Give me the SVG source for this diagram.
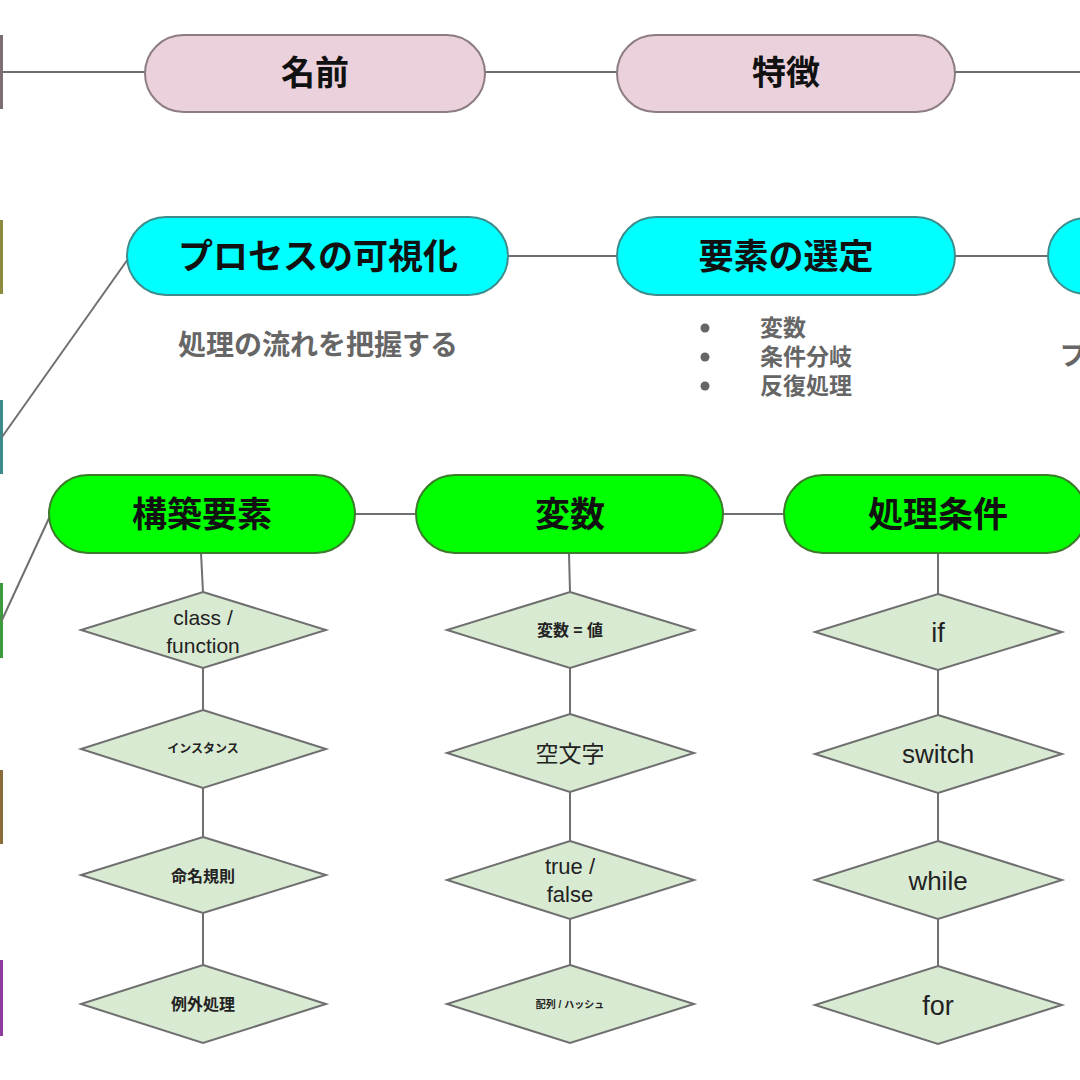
<svg xmlns="http://www.w3.org/2000/svg" width="1080" height="1080" viewBox="0 0 1080 1080">
<style>
.pink{fill:#ead1dc;stroke:#8e7c83;stroke-width:2}
.cyan{fill:#00ffff;stroke:#3f8c8c;stroke-width:2}
.green{fill:#00ff00;stroke:#3c7a2c;stroke-width:2}
.dia{fill:#d9ead3;stroke:#6f6f6f;stroke-width:2}
.ln{stroke:#6f6f6f;stroke-width:2;fill:none}
.tb{font-family:"Liberation Sans","Noto Sans CJK JP",sans-serif;font-weight:bold;text-anchor:middle;dominant-baseline:central;fill:#111}
.sub{font-family:"Liberation Sans","Noto Sans CJK JP",sans-serif;font-weight:bold;fill:#666;dominant-baseline:central}
.dt{font-family:"Liberation Sans","Noto Sans CJK JP",sans-serif;text-anchor:middle;dominant-baseline:central;fill:#222}
</style>
<rect width="1080" height="1080" fill="#ffffff"/>
<g id="bars">
<rect x="0" y="35" width="3" height="74" fill="#7d6e76"/>
<rect x="0" y="220" width="3" height="74" fill="#8c8a3e"/>
<rect x="0" y="400" width="3" height="74" fill="#3d8a8a"/>
<rect x="0" y="583" width="3" height="75" fill="#3c9a3c"/>
<rect x="0" y="770" width="3" height="74" fill="#8a6b3a"/>
<rect x="0" y="960" width="3" height="76" fill="#8e3a9e"/>
</g>
<g id="connectors">
<line class="ln" x1="2" y1="72" x2="145" y2="72"/>
<line class="ln" x1="485" y1="72" x2="617" y2="72"/>
<line class="ln" x1="955" y1="72" x2="1080" y2="72"/>
<line class="ln" x1="2" y1="437" x2="128" y2="259"/>
<line class="ln" x1="508" y1="256" x2="617" y2="256"/>
<line class="ln" x1="955" y1="256" x2="1048" y2="256"/>
<line class="ln" x1="2" y1="620" x2="50" y2="516"/>
<line class="ln" x1="355" y1="514" x2="416" y2="514"/>
<line class="ln" x1="723" y1="514" x2="784" y2="514"/>
<line class="ln" x1="201" y1="553" x2="203" y2="592"/>
<line class="ln" x1="203" y1="668" x2="203" y2="710"/>
<line class="ln" x1="203" y1="788" x2="203" y2="837"/>
<line class="ln" x1="203" y1="913" x2="203" y2="965"/>
<line class="ln" x1="569" y1="553" x2="570" y2="592"/>
<line class="ln" x1="570" y1="668" x2="570" y2="714"/>
<line class="ln" x1="570" y1="792" x2="570" y2="841"/>
<line class="ln" x1="570" y1="919" x2="570" y2="965"/>
<line class="ln" x1="938" y1="553" x2="938" y2="594"/>
<line class="ln" x1="938" y1="670" x2="938" y2="715"/>
<line class="ln" x1="938" y1="793" x2="938" y2="841"/>
<line class="ln" x1="938" y1="919" x2="938" y2="966"/>
</g>
<g id="n-namae"><rect class="pink" x="145" y="35" width="340" height="77" rx="38.5"/><text class="tb" x="315" y="73" font-size="34">名前</text></g>
<g id="n-tokuchou"><rect class="pink" x="617" y="35" width="338" height="77" rx="38.5"/><text class="tb" x="786" y="73" font-size="34">特徴</text></g>
<g id="n-process"><rect class="cyan" x="127" y="217" width="381" height="78" rx="39"/><text class="tb" x="318" y="256" font-size="35">プロセスの可視化</text></g>
<g id="n-youso"><rect class="cyan" x="617" y="217" width="338" height="78" rx="39"/><text class="tb" x="786" y="256" font-size="35">要素の選定</text></g>
<g id="n-cyan3"><rect class="cyan" x="1048" y="218" width="340" height="76" rx="38"/></g>
<g id="t-process"><text class="sub" x="318" y="345" font-size="28" text-anchor="middle">処理の流れを把握する</text></g>
<g id="t-youso">
<circle cx="705" cy="328" r="4.5" fill="#666"/><circle cx="705" cy="357" r="4.5" fill="#666"/><circle cx="705" cy="386" r="4.5" fill="#666"/>
<text class="sub" x="760" y="328" font-size="23">変数</text>
<text class="sub" x="760" y="357" font-size="23">条件分岐</text>
<text class="sub" x="760" y="386" font-size="23">反復処理</text>
</g>
<g id="t-cyan3"><text class="sub" x="1060" y="356" font-size="27">プ</text></g>
<g id="n-kouchiku"><rect class="green" x="49" y="475" width="306" height="78" rx="39"/><text class="tb" x="202" y="514" font-size="35">構築要素</text></g>
<g id="n-hensu"><rect class="green" x="416" y="475" width="307" height="78" rx="39"/><text class="tb" x="570" y="514" font-size="35">変数</text></g>
<g id="n-shori"><rect class="green" x="784" y="475" width="302" height="78" rx="39"/><text class="tb" x="938" y="514" font-size="35">処理条件</text></g>
<g id="d1"><polygon class="dia" points="203,592 326,630 203,668 81,630"/><text class="dt" x="203" y="617" font-size="21">class /</text><text class="dt" x="203" y="645" font-size="21">function</text></g>
<g id="d2"><polygon class="dia" points="203,710 326,749 203,788 81,749"/><text class="dt" x="203" y="749" font-size="12" font-weight="bold">インスタンス</text></g>
<g id="d3"><polygon class="dia" points="203,837 326,875 203,913 81,875"/><text class="dt" x="203" y="876" font-size="16" font-weight="bold">命名規則</text></g>
<g id="d4"><polygon class="dia" points="203,965 326,1004 203,1043 81,1004"/><text class="dt" x="203" y="1004" font-size="16" font-weight="bold">例外処理</text></g>
<g id="d5"><polygon class="dia" points="570,592 694,630 570,668 447,630"/><text class="dt" x="570" y="630" font-size="16" font-weight="bold">変数 = 値</text></g>
<g id="d6"><polygon class="dia" points="570,714 694,753 570,792 447,753"/><text class="dt" x="570" y="754" font-size="23">空文字</text></g>
<g id="d7"><polygon class="dia" points="570,841 694,880 570,919 447,880"/><text class="dt" x="570" y="866" font-size="22">true /</text><text class="dt" x="570" y="894" font-size="22">false</text></g>
<g id="d8"><polygon class="dia" points="570,965 694,1004 570,1043 447,1004"/><text class="dt" x="570" y="1004" font-size="10" font-weight="bold">配列 / ハッシュ</text></g>
<g id="d9"><polygon class="dia" points="938,594 1062,632 938,670 815,632"/><text class="dt" x="938" y="633" font-size="27">if</text></g>
<g id="d10"><polygon class="dia" points="938,715 1062,754 938,793 815,754"/><text class="dt" x="938" y="754" font-size="26">switch</text></g>
<g id="d11"><polygon class="dia" points="938,841 1062,880 938,919 815,880"/><text class="dt" x="938" y="881" font-size="26">while</text></g>
<g id="d12"><polygon class="dia" points="938,966 1062,1005 938,1044 815,1005"/><text class="dt" x="938" y="1006" font-size="27">for</text></g>
</svg>
